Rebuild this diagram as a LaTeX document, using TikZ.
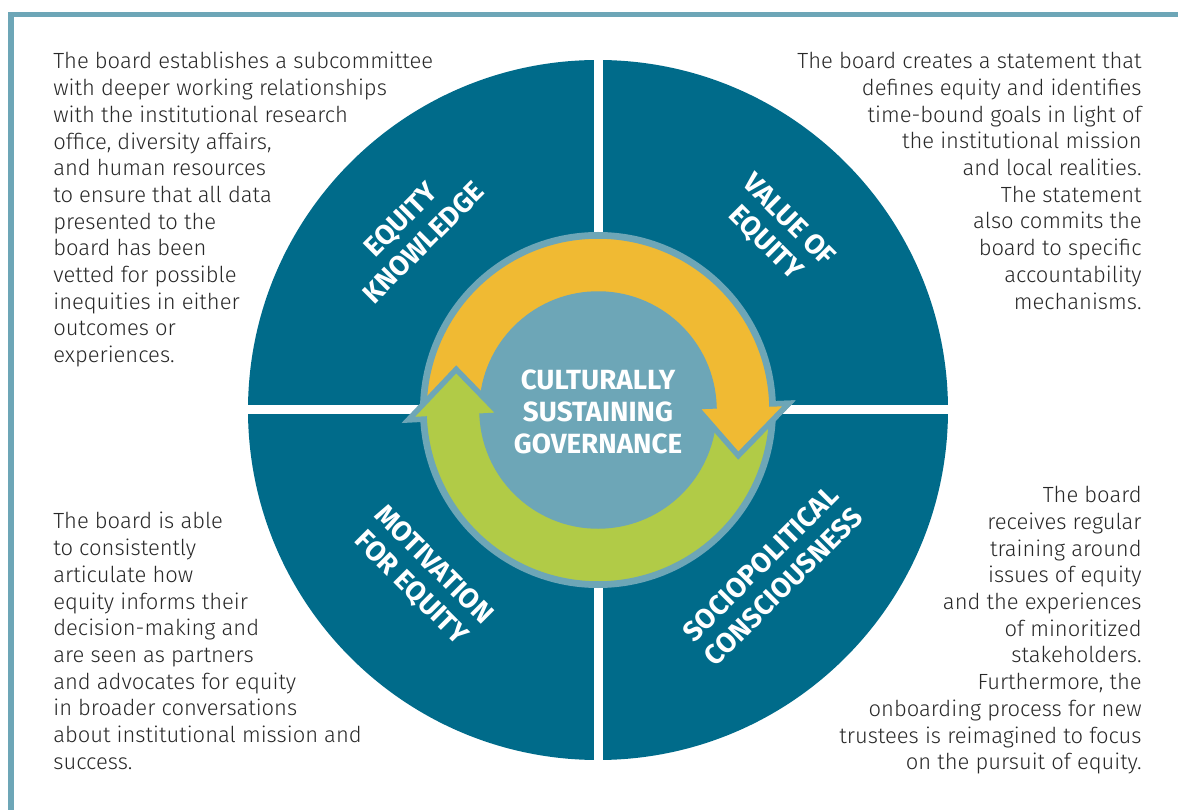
\documentclass[tikz,border=0pt]{standalone}
\usepackage{fontspec}
\IfFontExistsTF{Fira Sans Light}{\setmainfont{Fira Sans Light}}{\setmainfont{Fira Sans}}
\IfFontExistsTF{Fira Sans Bold}{\newfontfamily\labelfont{Fira Sans Bold}}{\newfontfamily\labelfont{Fira Sans SemiBold}}
\usetikzlibrary{positioning, calc}
\definecolor{quadteal}{RGB}{0,107,138}
\definecolor{ringblue}{RGB}{109,166,183}
\definecolor{arrowgold}{RGB}{240,186,51}
\definecolor{arrowlime}{RGB}{177,203,71}
\definecolor{notegray}{RGB}{40,40,40}
\newcommand{\goldpath}{(178:3.48) arc[start angle=178, end angle=2, radius=3.48] -- (2:3.82) -- (-18:2.95) -- (2:1.95) -- (2:2.32) arc[start angle=2, end angle=178, radius=2.32] -- cycle}

\begin{document}
\begin{tikzpicture}[
    note/.style={font=\fontsize{12.5}{15.2}\selectfont, text=notegray, inner sep=0pt},
    quadlabel/.style={font=\labelfont\fontsize{15.8}{18.4}\selectfont, text=white, align=center, inner sep=0pt},
    band/.style={draw=ringblue, line width=0.11cm, line join=miter}
]
\useasboundingbox (-11.96,-8.0) rectangle (11.6,8.2);

% Frame
\draw[ringblue, line width=0.11cm, line join=miter] (-11.736,-8.2) |- (11.8,7.906);

% Four quadrants
\fill[quadteal] (0,0) circle (7);
\draw[white, line width=0.18cm] (-7.1,0) -- (7.1,0);
\draw[white, line width=0.18cm] (0,-7.1) -- (0,7.1);

% Cycle ring
\fill[ringblue] (0,0) circle (3.56);
\filldraw[band, fill=arrowgold] \goldpath;
\filldraw[band, fill=arrowlime] (-4:3.48) arc[start angle=-4, end angle=-177, radius=3.48] -- (-177:3.8) -- (-196:2.95) -- (-177:1.95) -- (-177:2.32) arc[start angle=-177, end angle=-4, radius=2.32] -- cycle;
\begin{scope}
  \clip (0,-4.5) rectangle (4.5,4.5);
  \filldraw[band, fill=arrowgold] \goldpath;
\end{scope}

% Labels
\node[quadlabel] (core) at (0,-0.04) {CULTURALLY\\SUSTAINING\\GOVERNANCE};
\node[quadlabel, rotate=45] (eqknow) at (-3.72,3.58) {EQUITY\\KNOWLEDGE};
\node[quadlabel, rotate=-45] (valeq) at (3.58,3.56) {VALUE OF\\EQUITY};
\node[quadlabel, rotate=-45] (motiv) at (-3.52,-3.34) {MOTIVATION\\FOR EQUITY};
\node[quadlabel, rotate=45] (sociopol) at (3.48,-3.3) {SOCIOPOLITICAL\\CONSCIOUSNESS};

% Notes
\node[note, anchor=north west, align=left] (knownote) at (-10.9,7.16) {The board establishes a subcommittee\\with deeper working relationships\\with the institutional research\\office, diversity affairs,\\and human resources\\to ensure that all data\\presented to the\\board has been\\vetted for possible\\inequities in either\\outcomes or\\experiences.};
\node[note, anchor=north east, align=right] (valnote) at (10.88,7.16) {The board creates a statement that\\defines equity and identifies\\time-bound goals in light of\\the institutional mission\\and local realities.\\The statement\\also commits the\\board to specific\\accountability\\mechanisms.};
\node[note, anchor=north west, align=left] (motivnote) at (-10.9,-2.04) {The board is able\\to consistently\\articulate how\\equity informs their\\decision-making and\\are seen as partners\\and advocates for equity\\in broader conversations\\about institutional mission and\\success.};
\node[note, anchor=north east, align=right] (socionote) at (10.88,-1.52) {The board\\receives regular\\training around\\issues of equity\\and the experiences\\of minoritized\\stakeholders.\\Furthermore, the\\onboarding process for new\\trustees is reimagined to focus\\on the pursuit of equity.};
\end{tikzpicture}
\end{document}
